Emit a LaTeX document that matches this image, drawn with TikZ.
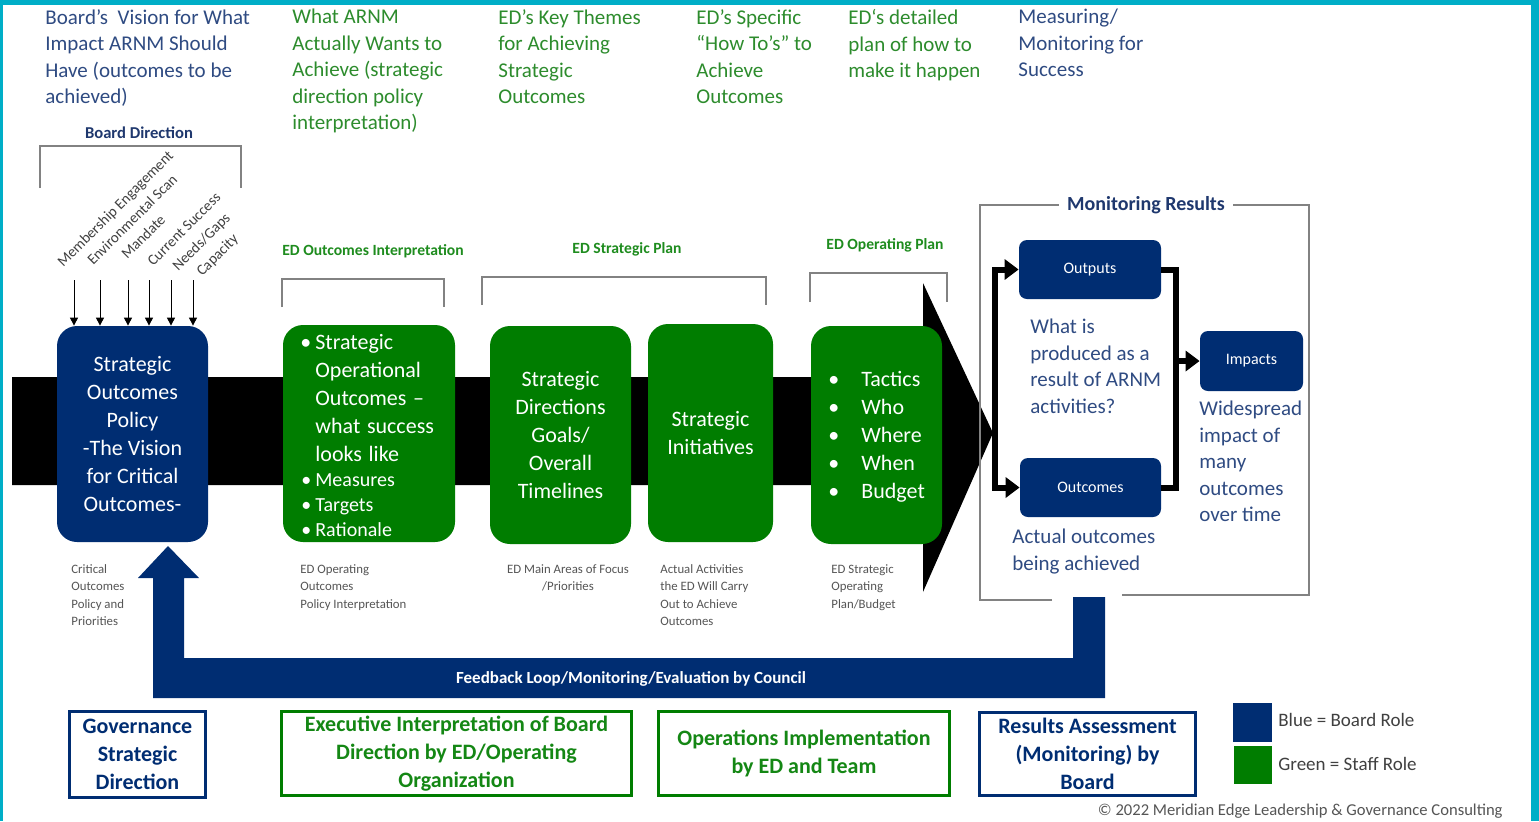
\documentclass[tikz,border=0pt]{standalone}
\usepackage{fontspec}
\setmainfont{Carlito}
\usetikzlibrary{arrows.meta,calc,positioning}

\definecolor{edgeteal}{RGB}{0,174,199}
\definecolor{boardblue}{RGB}{0,45,114}
\definecolor{staffgreen}{RGB}{0,125,0}
\definecolor{headblue}{RGB}{47,75,130}
\definecolor{headgreen}{RGB}{45,140,45}
\definecolor{labelblue}{RGB}{31,56,110}
\definecolor{labelgreen}{RGB}{30,140,30}
\definecolor{rolegreen}{RGB}{20,135,20}
\definecolor{framegray}{RGB}{130,130,130}
\definecolor{notegray}{RGB}{85,85,85}

\newcommand{\boxbullet}[1]{\leavevmode\llap{\textbullet\hspace{#1}}}

\tikzset{
  rolebox/.style={rounded corners=10pt, inner sep=0pt, align=center, text=white, font=\fontsize{11}{14}\selectfont},
  bluebox/.style={rolebox, fill=boardblue},
  greenbox/.style={rolebox, fill=staffgreen},
  headtext/.style={anchor=north west, inner sep=0pt, align=left, font=\fontsize{10.5}{13.25}\selectfont},
  bracketlabel/.style={inner sep=0pt, font=\bfseries\fontsize{7.8}{9}\selectfont},
  bracketline/.style={draw=framegray, line width=0.75pt},
  note/.style={anchor=north west, inner sep=0pt, align=left, text=notegray, font=\fontsize{6.4}{8.75}\selectfont},
  factor/.style={rotate=45, anchor=base west, inner sep=0pt, text=black!75, font=\fontsize{7.5}{9}\selectfont},
  inarrow/.style={-{Triangle[length=4pt,width=4pt]}, line width=0.5pt},
  resultbox/.style={rounded corners=4pt, fill=boardblue, inner sep=0pt, text=white, font=\fontsize{8}{10}\selectfont},
  resulttext/.style={headtext, text=headblue},
  flow/.style={line width=3pt, line join=miter},
  flowtip/.style={flow, -{Triangle[length=7pt,width=10pt]}},
  rolelabel/.style={line width=1.5pt, inner sep=0pt, align=center, font=\bfseries\fontsize{11}{14}\selectfont},
  legendtext/.style={anchor=west, inner sep=0pt, text=black!75, font=\fontsize{9.5}{11}\selectfont},
}

\begin{document}
\begin{tikzpicture}[x=0.5pt,y=-0.5pt]
\fill[edgeteal] (0,0) rectangle (1539,821);
\fill[white] (3,5) rectangle (1531,821);
\useasboundingbox (0,0) rectangle (1539,821);

% header row
\node[headtext, text=headblue] (qvision) at (45,9) {Board’s\ \ Vision for What\\ Impact ARNM Should\\ Have (outcomes to be\\ achieved)};
\node[headtext, text=headgreen] (qwants) at (292,9) {What ARNM\\ Actually Wants to\\ Achieve (strategic\\ direction policy\\ interpretation)};
\node[headtext, text=headgreen] (qthemes) at (498,9) {ED’s Key Themes\\ for Achieving\\ Strategic\\ Outcomes};
\node[headtext, text=headgreen] (qhowto) at (696,9) {ED’s Specific\\ “How To’s” to\\ Achieve\\ Outcomes};
\node[headtext, text=headgreen] (qplan) at (848,9) {ED‘s detailed\\ plan of how to\\ make it happen};
\node[headtext, text=headblue] (qmeasure) at (1018,9) {Measuring/\\ Monitoring for\\ Success};

% main process arrow
\fill (12,377) -- (923,377) -- (923,283) -- (993,433) -- (923,592) -- (923,485) -- (12,485) -- cycle;

% process boxes
\node[bluebox, minimum width=75.5pt, minimum height=108pt] (vision) at (132.5,434) {Strategic\\ Outcomes\\ Policy\\ -The Vision\\ for Critical\\ Outcomes-};
\node[greenbox, minimum width=86pt, minimum height=108.5pt] (edout) at (369,433.5) {};
\node[anchor=north west, inner sep=0pt, text width=62pt, text=white] (edouttxt) at (315,334) {\fontsize{11}{14}\selectfont\boxbullet{2pt}Strategic\\ Operational\\ Outcomes --\\ what success\\ looks like\par
\fontsize{10}{12.5}\selectfont\boxbullet{2pt}Measures\par\boxbullet{2pt}Targets\par\boxbullet{2pt}Rationale\par};
\node[greenbox, minimum width=70.5pt, minimum height=109pt] (stratdir) at (560.5,435) {Strategic\\ Directions\\ Goals/\\ Overall\\ Timelines};
\node[greenbox, minimum width=62.5pt, minimum height=109pt] (initiatives) at (710.5,433) {Strategic\\ Initiatives};
\node[greenbox, minimum width=65.5pt, minimum height=109pt] (tactics) at (876.5,435) {};
\node[anchor=north west, inner sep=0pt, text width=40pt, text=white] (tacticstxt) at (861,371) {\fontsize{11}{14}\selectfont\boxbullet{11pt}Tactics\par\boxbullet{11pt}Who\par\boxbullet{11pt}Where\par\boxbullet{11pt}When\par\boxbullet{11pt}Budget\par};

% brackets over the boxes
\node[bracketlabel, text=labelblue, font=\bfseries\fontsize{8.3}{10}\selectfont] (boarddir) at (139,133) {Board Direction};
\draw[bracketline] (40,188) -- (40,146) -- (241,146) -- (241,188);
\node[bracketlabel, text=labelgreen] (edinterp) at (373,251) {ED Outcomes Interpretation};
\draw[bracketline] (282,307) -- (282,279) -- (444,279) -- (444,307);
\node[bracketlabel, text=labelgreen] (edstrat) at (627,249) {ED Strategic Plan};
\draw[bracketline] (482,305) -- (482,277) -- (766,277) -- (766,305);
\node[bracketlabel, text=labelgreen] (edoper) at (885,245) {ED Operating Plan};
\draw[bracketline] (810,302) -- (810,273) -- (947,273) -- (947,302);

% board inputs
\foreach \ax/\lx/\ly/\txt in {74/63/268/Membership Engagement, 100/93/266/Environmental Scan, 128/127/260/Mandate, 149/153/267/Current Success, 171/178/272/{Needs/Gaps}, 193/202/277/Capacity} {
  \node[factor] (f\ax) at (\lx,\ly) {\txt};
  \draw[inarrow] (\ax,280) -- (\ax,0 |- vision.north);
}

% notes under the boxes
\node[note] (nvision) at (71,564) {Critical\\ Outcomes\\ Policy and\\ Priorities};
\node[note] (nedout) at (300,564) {ED Operating\\ Outcomes\\ Policy Interpretation};
\node[note, anchor=north, align=center] (nstratdir) at (568,564) {ED Main Areas of Focus\\ /Priorities};
\node[note] (ninit) at (660,564) {Actual Activities\\ the ED Will Carry\\ Out to Achieve\\ Outcomes};
\node[note] (ntactics) at (831,564) {ED Strategic\\ Operating\\ Plan/Budget};

% monitoring results
\draw[bracketline] (1052,600) -- (980,600) -- (980,205) -- (1309,205) -- (1309,595) -- (1122,595);
\node[fill=white, inner xsep=4pt, inner ysep=0pt, text=labelblue, font=\bfseries\fontsize{10}{12}\selectfont] (monitor) at (1146,205) {Monitoring Results};
\node[resultbox, minimum width=71pt, minimum height=29.5pt] (outputs) at (1090,269.5) {Outputs};
\node[resultbox, minimum width=70.5pt, minimum height=29.5pt] (outcomes) at (1090.5,487.5) {Outcomes};
\node[resultbox, minimum width=51.5pt, minimum height=30pt] (impacts) at (1251.5,361) {Impacts};
\node[resulttext] (whatis) at (1030,319) {What is\\ produced as a\\ result of ARNM\\ activities?};
\node[resulttext] (actual) at (1012,529) {Actual outcomes\\ being achieved};
\node[resulttext] (widespread) at (1199,401) {Widespread\\ impact of\\ many\\ outcomes\\ over time};
\coordinate (fork) at (995,433);
\coordinate (merge) at (1176,361);
\draw[flowtip] (fork) |- (outputs.west);
\draw[flowtip] (fork) |- (outcomes.west);
\draw[flow] (outputs.east) -| (merge) |- (outcomes.east);
\draw[flowtip] (merge) -- (impacts.west);

% feedback loop
\fill[boardblue] (138,578) -- (168,546) -- (199,578) -- (184,578) -- (184,658) -- (1073,658) -- (1073,597) -- (1105,597) -- (1105,698) -- (153,698) -- (153,578) -- cycle;
\node[inner sep=0pt, text=white, font=\bfseries\fontsize{8.5}{10}\selectfont] (feedback) at (631,679) {Feedback Loop/Monitoring/Evaluation by Council};

% roles
\node[rolelabel, draw=boardblue, text=boardblue, minimum width=68pt, minimum height=43pt] (govern) at (137.5,754.5) {Governance\\ Strategic\\ Direction};
\node[rolelabel, draw=staffgreen, text=rolegreen, minimum width=175pt, minimum height=42pt] (execinterp) at (456.5,753.5) {Executive Interpretation of Board\\ Direction by ED/Operating\\ Organization};
\node[rolelabel, draw=staffgreen, text=rolegreen, minimum width=145.5pt, minimum height=42pt] (opsimpl) at (804,753.5) {Operations Implementation\\ by ED and Team};
\node[rolelabel, draw=boardblue, text=boardblue, minimum width=108pt, minimum height=41.5pt] (assess) at (1087.5,754) {Results Assessment\\ (Monitoring) by\\ Board};

% legend
\node[fill=boardblue, minimum size=19.5pt, inner sep=0pt] (keyblue) at (1252.5,722.5) {};
\node[fill=staffgreen, minimum size=19pt, inner sep=0pt] (keygreen) at (1252.5,765) {};
\node[legendtext] (keybluetxt) at (1278,720) {Blue = Board Role};
\node[legendtext] (keygreentxt) at (1278,764) {Green = Staff Role};

\node[anchor=east, inner sep=0pt, text=notegray, font=\fontsize{8.3}{10}\selectfont] (copyright) at (1503,811) {© 2022 Meridian Edge Leadership \& Governance Consulting};
\end{tikzpicture}
\end{document}
